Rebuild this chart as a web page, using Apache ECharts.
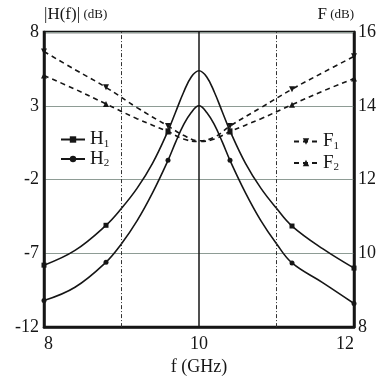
<!DOCTYPE html>
<html>
<head>
<meta charset="utf-8">
<script src="https://cdn.jsdelivr.net/npm/echarts@6/dist/echarts.min.js"></script>
<style>
  html, body { margin: 0; padding: 0; background: #fff; }
  #chart { width: 380px; height: 381px; }
</style>
</head>
<body>
<div id="chart"></div>
<script>
// frequency samples (GHz) for the |H(f)| curves
const freqH = [8, 8.4, 8.8, 9.0, 9.2, 9.4, 9.6, 9.7, 9.8, 9.9, 10, 10.1, 10.2, 10.3, 10.4, 10.6, 10.8, 11.0, 11.2, 11.6, 12];
const h1 = [-7.8, -6.8, -5.1, -3.95, -2.6, -0.9, 1.3, 2.6, 3.9, 4.95, 5.37, 4.95, 3.9, 2.6, 1.3, -0.9, -2.6, -3.95, -5.15, -6.7, -8.0];
const h2 = [-10.2, -9.3, -7.6, -6.35, -4.8, -2.9, -0.7, 0.55, 1.7, 2.55, 3.0, 2.55, 1.7, 0.55, -0.7, -2.9, -4.8, -6.35, -7.65, -9.0, -10.4];

// frequency samples for the noise figure curves
const freqF = [8, 8.4, 8.8, 9.2, 9.6, 9.8, 10, 10.2, 10.4, 10.8, 11.2, 11.6, 12];
const f1 = [15.47, 14.98, 14.5, 13.95, 13.45, 13.2, 13.05, 13.15, 13.45, 13.95, 14.45, 14.9, 15.34];
const f2 = [14.82, 14.45, 14.05, 13.65, 13.3, 13.1, 13.03, 13.1, 13.3, 13.65, 14.03, 14.4, 14.74];

// frequencies carrying a marker
const markerFreqs = [8, 8.8, 9.6, 10.4, 11.2, 12];

// tick values
const xTicks = [8, 10, 12];
const hTicks = [-12, -7, -2, 3, 8];
const fTicks = [8, 10, 12, 14, 16];
const vGrid = [9, 10, 11];

const FONT = '"Liberation Serif", "DejaVu Serif", serif';
const INK = '#161616';

function withMarkers(xs, ys, sym) {
  return xs.map((x, i) => ({
    value: [x, ys[i]],
    symbol: markerFreqs.indexOf(x) >= 0 ? sym : 'none'
  }));
}

const chart = echarts.init(document.getElementById('chart'));

const legendText = {
  fontFamily: FONT,
  color: INK,
  rich: {
    m: { fontFamily: FONT, fontSize: 19, color: INK, lineHeight: 20 },
    s: { fontFamily: FONT, fontSize: 11, color: INK, verticalAlign: 'bottom', lineHeight: 12 }
  }
};
const subFmt = name => '{m|' + name.charAt(0) + '}{s|' + name.slice(1) + '}';

chart.setOption({
  backgroundColor: '#fff',
  animation: false,
  grid: {
    left: 44, right: 26, top: 32, bottom: 45,
    show: true, borderColor: INK, borderWidth: 2.5
  },
  legend: [
    {
      data: ['H1', 'H2'],
      orient: 'vertical',
      left: 55, top: 125,
      itemGap: 0, itemWidth: 24, itemHeight: 8,
      formatter: subFmt,
      textStyle: legendText
    },
    {
      data: ['F1', 'F2'],
      orient: 'vertical',
      left: 288, top: 127,
      itemGap: 2, itemWidth: 24, itemHeight: 8,
      formatter: subFmt,
      textStyle: legendText
    }
  ],
  xAxis: {
    type: 'value',
    min: 8, max: 12, interval: 1,
    name: 'f (GHz)',
    nameLocation: 'middle',
    nameGap: 27,
    nameTextStyle: { fontFamily: FONT, fontSize: 18, color: INK, verticalAlign: 'top' },
    axisLine: { show: true, onZero: false, lineStyle: { color: INK, width: 2.5 } },
    axisTick: { show: false },
    splitLine: { show: false },
    axisLabel: {
      margin: 8,
      fontFamily: FONT, fontSize: 18, color: INK,
      alignMinLabel: 'left', alignMaxLabel: 'right',
      formatter: v => (xTicks.indexOf(v) >= 0 ? String(v) : '')
    }
  },
  yAxis: [
    {
      type: 'value',
      min: hTicks[0], max: hTicks[hTicks.length - 1], interval: 5,
      name: '{a||H(f)|} {b|(dB)}',
      nameLocation: 'end',
      nameGap: 4,
      nameTextStyle: {
        align: 'left', verticalAlign: 'bottom',
        rich: {
          a: { fontFamily: FONT, fontSize: 17, color: INK },
          b: { fontFamily: FONT, fontSize: 13, color: INK }
        }
      },
      axisLine: { show: true, onZero: false, lineStyle: { color: INK, width: 2.5 } },
      axisTick: { show: false },
      splitLine: { show: true, lineStyle: { color: '#8e9c95', width: 1.2 } },
      axisLabel: { margin: 5, fontFamily: FONT, fontSize: 18, color: INK }
    },
    {
      type: 'value',
      position: 'right',
      min: fTicks[0], max: fTicks[fTicks.length - 1], interval: 2,
      name: '{a|F} {b|(dB)}',
      nameLocation: 'end',
      nameGap: 4,
      nameTextStyle: {
        align: 'right', verticalAlign: 'bottom',
        rich: {
          a: { fontFamily: FONT, fontSize: 17, color: INK },
          b: { fontFamily: FONT, fontSize: 13, color: INK }
        }
      },
      axisLine: { show: true, onZero: false, lineStyle: { color: INK, width: 2.5 } },
      axisTick: { show: false },
      splitLine: { show: false },
      axisLabel: { margin: 4, fontFamily: FONT, fontSize: 18, color: INK }
    }
  ],
  series: [
    {
      name: 'H1',
      type: 'line',
      smooth: 0.4,
      symbol: 'rect',
      symbolSize: 5,
      data: withMarkers(freqH, h1, 'rect'),
      lineStyle: { color: INK, width: 1.6 },
      itemStyle: { color: INK },
      markLine: {
        silent: true,
        symbol: 'none',
        label: { show: false },
        data: vGrid.map(x => ({
          xAxis: x,
          lineStyle: x === 10
            ? { color: INK, width: 1.5, type: 'solid' }
            : { color: '#333', width: 1, type: [4, 2, 1, 2] }
        }))
      }
    },
    {
      name: 'H2',
      type: 'line',
      smooth: 0.4,
      symbol: 'circle',
      symbolSize: 5,
      data: withMarkers(freqH, h2, 'circle'),
      lineStyle: { color: INK, width: 1.6 },
      itemStyle: { color: INK }
    },
    {
      name: 'F1',
      type: 'line',
      yAxisIndex: 1,
      smooth: 0.4,
      symbol: 'triangle',
      symbolRotate: 180,
      symbolSize: 6,
      data: withMarkers(freqF, f1, 'triangle'),
      lineStyle: { color: INK, width: 1.6, type: [5, 4] },
      itemStyle: { color: INK }
    },
    {
      name: 'F2',
      type: 'line',
      yAxisIndex: 1,
      smooth: 0.4,
      symbol: 'triangle',
      symbolSize: 6,
      data: withMarkers(freqF, f2, 'triangle'),
      lineStyle: { color: INK, width: 1.6, type: [5, 4] },
      itemStyle: { color: INK }
    }
  ]
});
</script>
</body>
</html>
